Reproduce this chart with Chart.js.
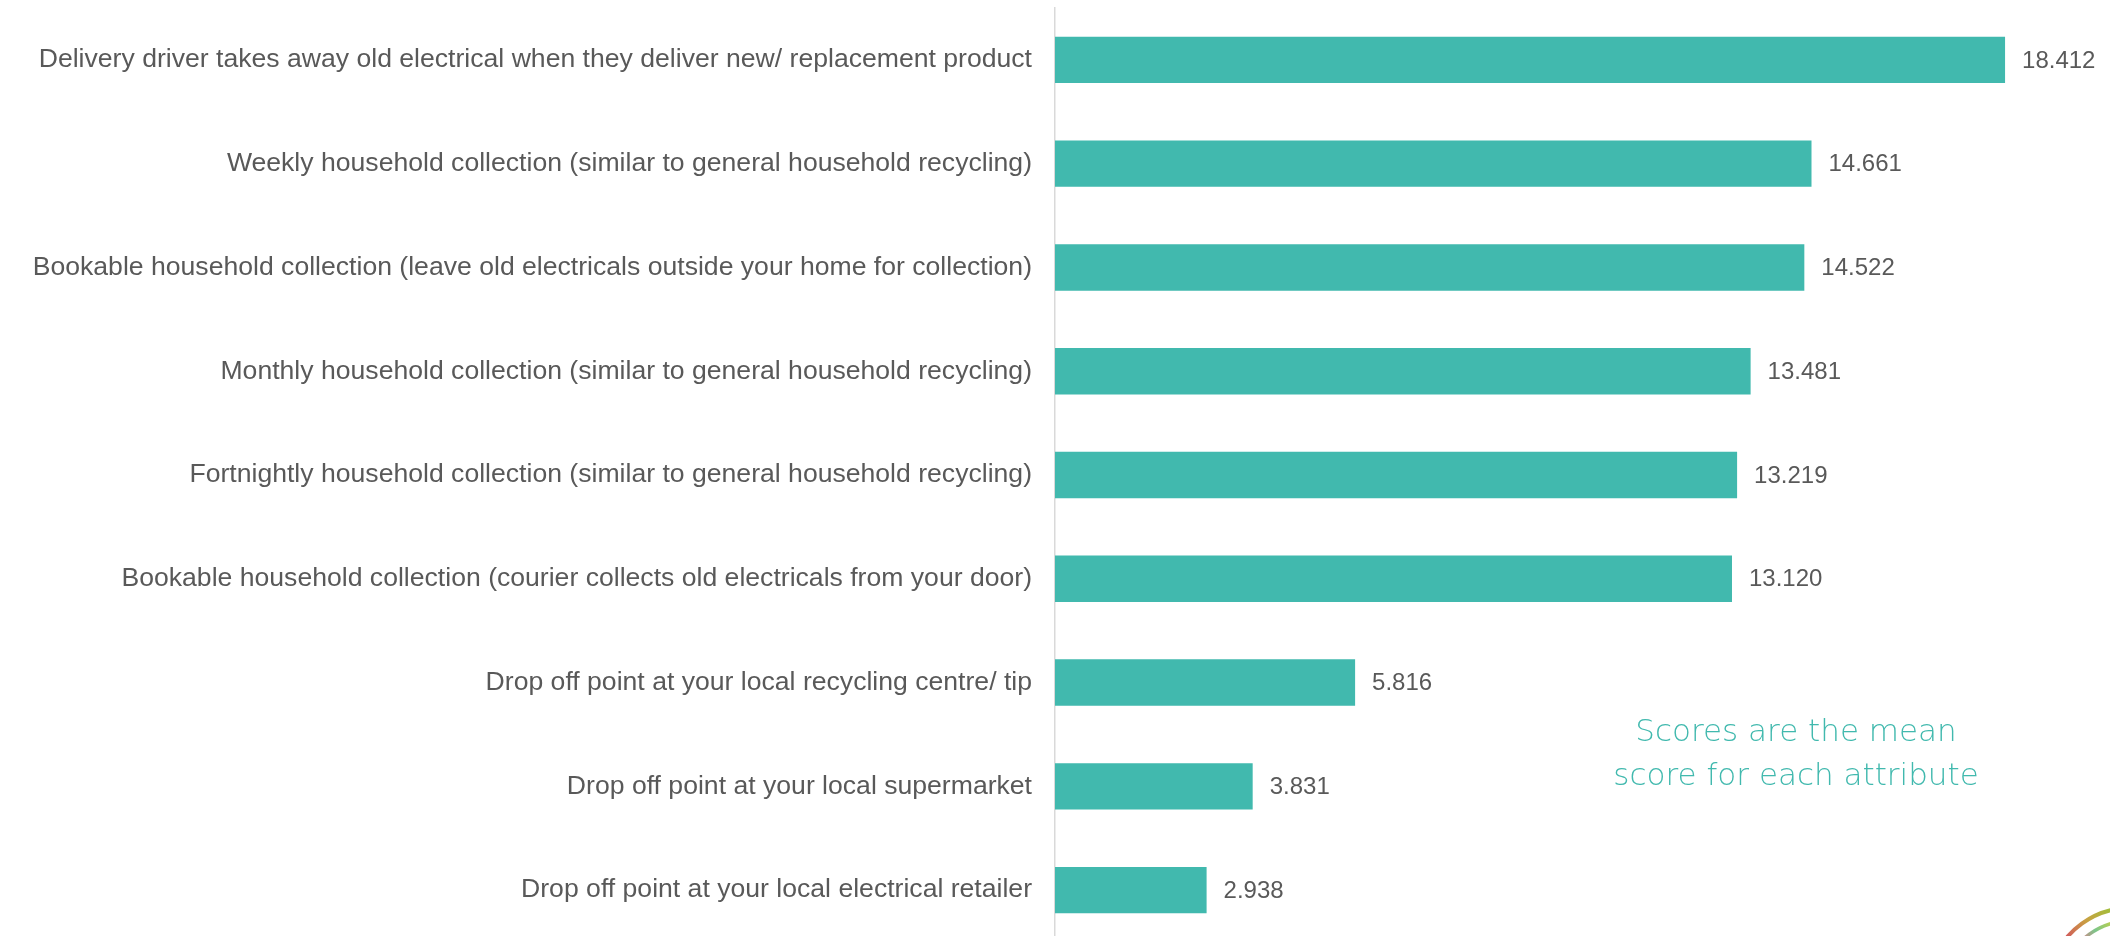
<!DOCTYPE html>
<html>
<head>
<meta charset="utf-8">
<script src="https://cdn.jsdelivr.net/npm/chart.js@4.4.1/dist/chart.umd.min.js"></script>
<style>
  html, body { margin: 0; padding: 0; background: #ffffff; overflow: hidden; }
  #wrap { position: relative; width: 2110px; height: 950px; }
</style>
</head>
<body>
<div id="wrap"><canvas id="c"></canvas></div>
<script>
const categories = [
  "Delivery driver takes away old electrical when they deliver new/ replacement product",
  "Weekly household collection (similar to general household recycling)",
  "Bookable household collection (leave old electricals outside your home for collection)",
  "Monthly household collection (similar to general household recycling)",
  "Fortnightly household collection (similar to general household recycling)",
  "Bookable household collection (courier collects old electricals from your door)",
  "Drop off point at your local recycling centre/ tip",
  "Drop off point at your local supermarket",
  "Drop off point at your local electrical retailer"
];
const meanScores = [18.412, 14.661, 14.522, 13.481, 13.219, 13.120, 5.816, 3.831, 2.938];
const noteLines = ["Scores are the mean", "score for each attribute"];

const TEAL = '#41b9ae';
const GREY = '#595959';
const FONT = "'Liberation Sans', Arial, sans-serif";

const valueLabels = {
  id: 'valueLabels',
  afterDatasetsDraw(chart) {
    const ctx = chart.ctx;
    const meta = chart.getDatasetMeta(0);
    ctx.save();
    ctx.font = '24px ' + FONT;
    ctx.fillStyle = GREY;
    ctx.textAlign = 'left';
    ctx.textBaseline = 'middle';
    meta.data.forEach((el, i) => {
      ctx.fillText(meanScores[i].toFixed(3), el.x + 17, el.y + 1);
    });
    ctx.restore();
  }
};

const note = {
  id: 'note',
  afterDraw(chart) {
    const ctx = chart.ctx;
    const a = chart.chartArea;
    ctx.save();
    ctx.font = "200 31px 'DejaVu Sans', Lato, sans-serif";
    ctx.fillStyle = TEAL;
    ctx.textAlign = 'center';
    ctx.textBaseline = 'alphabetic';
    const cx = a.left + 741;
    ctx.fillText(noteLines[0], cx, 741);
    ctx.fillText(noteLines[1], cx, 785);
    // corner logo arcs
    const lx = 2130, ly = 990;
    const g1 = ctx.createLinearGradient(2065, 940, 2110, 905);
    g1.addColorStop(0, '#d2535e');
    g1.addColorStop(0.5, '#c9a042');
    g1.addColorStop(1, '#9fc03a');
    ctx.strokeStyle = g1;
    ctx.lineWidth = 4;
    ctx.beginPath();
    ctx.arc(lx, ly, 82, Math.PI * 1.1, Math.PI * 1.5);
    ctx.stroke();
    const g2 = ctx.createLinearGradient(2080, 940, 2110, 920);
    g2.addColorStop(0, '#e07a88');
    g2.addColorStop(0.5, '#7cc68a');
    g2.addColorStop(1, '#b8cf50');
    ctx.strokeStyle = g2;
    ctx.lineWidth = 3.5;
    ctx.beginPath();
    ctx.arc(lx, ly, 69, Math.PI * 1.1, Math.PI * 1.5);
    ctx.stroke();
    ctx.restore();
  }
};

new Chart(document.getElementById('c'), {
  type: 'bar',
  data: {
    labels: categories,
    datasets: [{
      data: meanScores,
      backgroundColor: TEAL,
      borderWidth: 0,
      categoryPercentage: 1,
      barPercentage: 0.447
    }]
  },
  options: {
    indexAxis: 'y',
    responsive: true,
    maintainAspectRatio: false,
    animation: false,
    layout: { padding: { left: 0, right: 23, top: 8, bottom: 8 } },
    plugins: { legend: { display: false }, tooltip: { enabled: false } },
    scales: {
      x: {
        display: false,
        min: 0,
        max: 20
      },
      y: {
        afterFit(scale) {
          scale.width = 1055;
          scale.paddingTop = 0;
          scale.paddingBottom = 0;
        },
        grid: { display: true, color: 'transparent', drawTicks: false },
        border: { display: true, color: '#d9d9d9', width: 1.5 },
        ticks: {
          padding: 23,
          color: GREY,
          font: { family: FONT, size: 26.6 }
        }
      }
    }
  },
  plugins: [valueLabels, note]
});
</script>
</body>
</html>
